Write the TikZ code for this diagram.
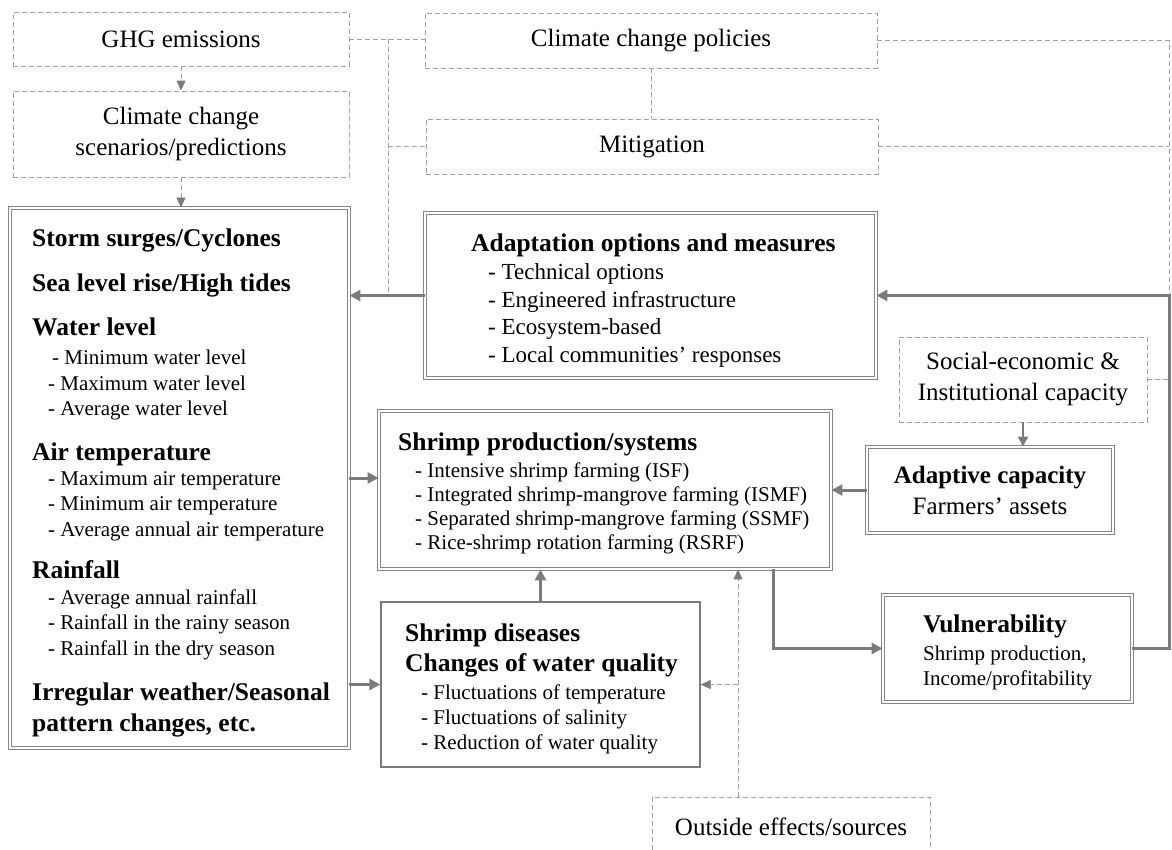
\documentclass[tikz,border=0pt]{standalone}
\usepackage{fontspec}
\setmainfont{Liberation Serif}
\usetikzlibrary{arrows.meta}
\definecolor{lg}{HTML}{A0A0A0}
\definecolor{ag}{HTML}{7B7B7B}
\definecolor{bg}{HTML}{858585}
\tikzset{
  dashbox/.style={draw=lg, dash pattern=on 5pt off 3pt, line width=0.8pt, inner sep=0pt, align=center, font=\fontsize{25}{31}\selectfont},
  dblbox/.style={draw=bg, double=white, double distance=2.2pt, line width=0.9pt, inner sep=0pt},
  sgbox/.style={draw=ag, line width=1.4pt, inner sep=0pt},
  hd/.style={anchor=base west, inner sep=0pt, font=\fontsize{25.5}{30}\selectfont\bfseries},
  itm/.style={anchor=base west, inner sep=0pt, font=\fontsize{21}{25}\selectfont},
  itma/.style={anchor=base west, inner sep=0pt, font=\fontsize{23}{27}\selectfont},
  dline/.style={draw=lg, dash pattern=on 5pt off 3pt, line width=0.8pt},
  darr/.style={dline, -{Triangle[length=10pt,width=9pt,color=ag]}},
  tarr/.style={draw=ag, line width=3pt, -{Triangle[length=11pt,width=11pt]}},
  marr/.style={draw=ag, line width=2pt, -{Triangle[length=10pt,width=10pt]}}
}
\begin{document}
\begin{tikzpicture}[x=1pt,y=-1pt]
\useasboundingbox (0,0) rectangle (1172,849);
\clip (0,0) rectangle (1172,849);
% dashed boxes
\node[dashbox, minimum width=336pt, minimum height=54pt] (ghg) at (181,39) {GHG emissions};
\node[dashbox, minimum width=336pt, minimum height=86pt] (scen) at (181,134) {Climate change\\scenarios/predictions};
\node[dashbox, minimum width=452pt, minimum height=55pt] (pol) at (651,40.5) {Climate change policies};
\node[dashbox, minimum width=452pt, minimum height=55pt] (mit) at (652,146.5) {Mitigation};
\node[dashbox, minimum width=248pt, minimum height=85pt] (soc) at (1023,379.5) {Social-economic \&\\Institutional capacity};
\node[dashbox, minimum width=278pt, minimum height=60pt] (out) at (791,827) {Outside effects/sources};
% solid boxes
\node[dblbox, minimum width=339pt, minimum height=540pt] (clim) at (179.5,478) {};
\node[dblbox, minimum width=451pt, minimum height=165pt] (adapt) at (650.5,295.5) {};
\node[dblbox, minimum width=452pt, minimum height=158pt] (shr) at (605,490) {};
\node[dblbox, minimum width=246pt, minimum height=86pt, align=center, font=\fontsize{25}{31}\selectfont] (adc) at (990,490) {{\bfseries Adaptive capacity}\\Farmers’ assets};
\node[dblbox, minimum width=249pt, minimum height=107pt] (vul) at (1007.5,648.5) {};
\node[sgbox, minimum width=319pt, minimum height=165pt] (dis) at (540.5,684.5) {};
% climate texts
\node[hd] (c1) at (32,246) {Storm surges/Cyclones};
\node[hd] (c2) at (32,291) {Sea level rise/High tides};
\node[hd] (c3) at (32,335) {Water level};
\node[itm] (c4) at (52,364) {- Minimum water level};
\node[itm] (c5) at (48,390) {- Maximum water level};
\node[itm] (c6) at (48,415) {- Average water level};
\node[hd] (c7) at (32,460) {Air temperature};
\node[itm] (c8) at (48,485) {- Maximum air temperature};
\node[itm] (c9) at (48,510) {- Minimum air temperature};
\node[itm] (c10) at (48,536) {- Average annual air temperature};
\node[hd] (c11) at (32,578) {Rainfall};
\node[itm] (c12) at (48,604) {- Average annual rainfall};
\node[itm] (c13) at (48,629) {- Rainfall in the rainy season};
\node[itm] (c14) at (48,655) {- Rainfall in the dry season};
\node[hd] (c15) at (32,700) {Irregular weather/Seasonal};
\node[hd] (c16) at (32,731) {pattern changes, etc.};
% adaptation texts
\node[hd] (a1) at (471,251) {Adaptation options and measures};
\node[itma] (a2) at (488,279) {- Technical options};
\node[itma] (a3) at (488,307) {- Engineered infrastructure};
\node[itma] (a4) at (488,334) {- Ecosystem-based};
\node[itma] (a5) at (488,362) {- Local communities’ responses};
% shrimp production texts
\node[hd] (s1) at (398,450) {Shrimp production/systems};
\node[itm] (s2) at (415,477) {- Intensive shrimp farming (ISF)};
\node[itm] (s3) at (415,501) {- Integrated shrimp-mangrove farming (ISMF)};
\node[itm] (s4) at (415,525) {- Separated shrimp-mangrove farming (SSMF)};
\node[itm] (s5) at (415,549) {- Rice-shrimp rotation farming (RSRF)};
% diseases texts
\node[hd] (d1) at (405,641) {Shrimp diseases};
\node[hd] (d2) at (405,671) {Changes of water quality};
\node[itm] (d3) at (421,699) {- Fluctuations of temperature};
\node[itm] (d4) at (421,724) {- Fluctuations of salinity};
\node[itm] (d5) at (421,749) {- Reduction of water quality};
% vulnerability texts
\node[hd] (v1) at (923,632) {Vulnerability};
\node[itm] (v2) at (923,660) {Shrimp production,};
\node[itm] (v3) at (923,685) {Income/profitability};
% helper coordinates
\coordinate (jx) at (388,0);
\coordinate (rx) at (1169,0);
\coordinate (sx) at (773,0);
\coordinate (ox) at (738,0);
\coordinate (sa) at ([yshift=12pt]shr.west);
% dashed connectors
\draw[dline] (ghg.east) -- (ghg.east -| pol.west);
\draw[dline] (jx |- ghg.east) -- (jx |- adapt.west);
\draw[dline] (jx |- mit.west) -- (mit.west);
\draw[dline] (pol.south) -- (pol.south |- mit.north);
\draw[dline] (pol.east) -- (rx |- pol.east) -- (rx |- adapt.east);
\draw[dline] (mit.east) -- (rx |- mit.east);
\draw[dline] (soc.east) -- (rx |- soc.east);
\draw[darr] (ghg.south) -- (ghg.south |- scen.north);
\draw[darr] (scen.south) -- (scen.south |- clim.north);
\draw[darr] (ox |- out.north) -- (ox |- shr.south);
\draw[darr] (ox |- dis.east) -- (dis.east);
% solid connectors
\draw[tarr] (adapt.west) -- (clim.east |- adapt.west);
\draw[tarr] (vul.east) -- (rx |- vul.east) -- (rx |- adapt.east) -- (adapt.east);
\draw[marr] (soc.south) -- (soc.south |- adc.north);
\draw[tarr] (adc.west) -- (shr.east |- adc.west);
\draw[tarr] (clim.east |- sa) -- (sa);
\draw[tarr] (clim.east |- dis.west) -- (dis.west);
\draw[tarr] (dis.north) -- (dis.north |- shr.south);
\draw[tarr] (sx |- shr.south) -- (sx |- vul.west) -- (vul.west);
\end{tikzpicture}
\end{document}
